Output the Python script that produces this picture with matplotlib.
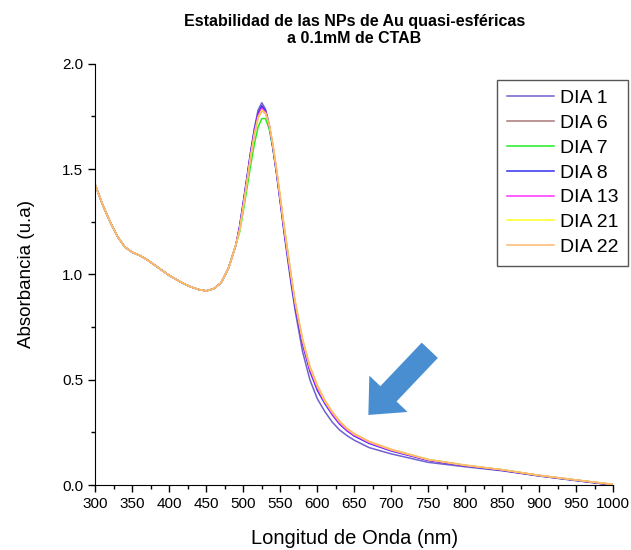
import matplotlib
import matplotlib.pyplot as plt
from matplotlib.ticker import MultipleLocator

matplotlib.rcParams['font.family'] = ['Liberation Sans', 'DejaVu Sans']

# wavelength grid (nm)
wl = [300, 310, 320, 330, 340, 350, 360, 370, 380, 390, 400, 410, 420, 430, 440,
      450, 460, 470, 480, 490,
      495, 500, 505, 510, 515, 520, 525, 530, 535, 540, 545, 550, 555, 560, 565, 570,
      580, 590, 600, 610, 620, 630, 640, 650, 670, 700, 750, 800, 850, 900, 950, 1000]

# part common to all days (300-490 nm)
common = [1.425, 1.33, 1.25, 1.18, 1.13, 1.105, 1.09, 1.07, 1.045, 1.02, 0.995,
          0.975, 0.955, 0.94, 0.928, 0.922, 0.932, 0.96, 1.03, 1.14]

dia1 = common + [1.23, 1.345, 1.465, 1.585, 1.695, 1.78, 1.815, 1.785, 1.71, 1.60,
                 1.475, 1.34, 1.20, 1.07, 0.945, 0.83,
                 0.635, 0.50, 0.41, 0.35, 0.30, 0.262, 0.235, 0.213, 0.178, 0.148,
                 0.108, 0.087, 0.068, 0.043, 0.021, 0.0]
dia6 = common + [1.22, 1.33, 1.45, 1.57, 1.68, 1.76, 1.80, 1.775, 1.71, 1.61,
                 1.49, 1.355, 1.22, 1.10, 0.975, 0.86,
                 0.68, 0.55, 0.46, 0.395, 0.34, 0.295, 0.262, 0.237, 0.202, 0.165,
                 0.118, 0.092, 0.071, 0.045, 0.023, 0.001]
dia7 = common + [1.20, 1.30, 1.41, 1.52, 1.62, 1.70, 1.74, 1.74, 1.69, 1.60,
                 1.49, 1.36, 1.23, 1.11, 0.985, 0.87,
                 0.69, 0.56, 0.47, 0.40, 0.345, 0.30, 0.266, 0.24, 0.205, 0.168,
                 0.121, 0.094, 0.073, 0.046, 0.024, 0.003]
dia8 = common + [1.225, 1.34, 1.46, 1.58, 1.685, 1.765, 1.80, 1.775, 1.705, 1.60,
                 1.48, 1.345, 1.21, 1.085, 0.96, 0.85,
                 0.67, 0.54, 0.45, 0.388, 0.335, 0.29, 0.258, 0.233, 0.198, 0.162,
                 0.117, 0.091, 0.07, 0.044, 0.022, 0.0]
dia13 = common + [1.22, 1.33, 1.45, 1.57, 1.675, 1.755, 1.79, 1.77, 1.71, 1.61,
                  1.49, 1.355, 1.22, 1.095, 0.975, 0.86,
                  0.68, 0.55, 0.46, 0.395, 0.34, 0.295, 0.262, 0.237, 0.202, 0.165,
                  0.119, 0.093, 0.072, 0.046, 0.024, 0.003]
dia21 = common + [1.21, 1.32, 1.44, 1.56, 1.665, 1.745, 1.78, 1.765, 1.71, 1.615,
                  1.495, 1.365, 1.23, 1.105, 0.985, 0.87,
                  0.69, 0.56, 0.47, 0.40, 0.347, 0.302, 0.268, 0.242, 0.206, 0.168,
                  0.121, 0.094, 0.073, 0.046, 0.024, 0.003]
dia22 = common + [1.21, 1.32, 1.44, 1.555, 1.66, 1.74, 1.775, 1.765, 1.71, 1.62,
                  1.50, 1.37, 1.235, 1.11, 0.99, 0.875,
                  0.695, 0.565, 0.475, 0.405, 0.35, 0.305, 0.27, 0.245, 0.208, 0.17,
                  0.122, 0.095, 0.073, 0.046, 0.024, 0.003]

labels = ['DIA 1', 'DIA 6', 'DIA 7', 'DIA 8', 'DIA 13', 'DIA 21', 'DIA 22']
series = [dia1, dia6, dia7, dia8, dia13, dia21, dia22]
colors = ['#7060D0', '#A87878', '#22EE22', '#3030F0', '#FF30FF', '#FFFF20', '#FFB870']

fig = plt.figure(figsize=(6.31, 5.5), dpi=100)
ax = fig.add_axes([0.151, 0.118, 0.821, 0.766])

for y, lab, c in zip(series, labels, colors):
    ax.plot(wl, y, color=c, lw=1.1, label=lab)

# big blue arrow pointing at the tail
ax.annotate('', xy=(669, 0.333), xytext=(752, 0.64),
            arrowprops=dict(arrowstyle='simple,head_length=1.05,head_width=1.9,tail_width=0.8',
                            mutation_scale=20, color='#4A8ED2', lw=0,
                            shrinkA=0, shrinkB=0))

# graphic settings
ax.set_xlim(300, 1000)
ax.set_ylim(0, 2.0)
ax.xaxis.set_major_locator(MultipleLocator(50))
ax.xaxis.set_minor_locator(MultipleLocator(25))
ax.yaxis.set_major_locator(MultipleLocator(0.5))
ax.yaxis.set_minor_locator(MultipleLocator(0.25))
ax.tick_params(which='major', direction='out', length=5, width=1, labelsize=11)
ax.tick_params(which='minor', direction='out', length=3, width=1)
for s in ['top', 'right']:
    ax.spines[s].set_visible(False)
ax.set_xlabel('Longitud de Onda (nm)', fontsize=14.5, labelpad=13)
ax.set_ylabel('Absorbancia (u.a)', fontsize=13.5, labelpad=20)
ax.set_title('Estabilidad de las NPs de Au quasi-esféricas\na 0.1mM de CTAB',
             fontsize=11.5, fontweight='bold', pad=15)

leg = ax.legend(loc='upper right', bbox_to_anchor=(0.995, 0.855),
                bbox_transform=fig.transFigure, fontsize=14, fancybox=False,
                framealpha=1, edgecolor='#555555', handlelength=2.4,
                borderpad=0.5, labelspacing=0.37, handletextpad=0.3,
                borderaxespad=0)
leg.get_frame().set_linewidth(1)

fig.savefig('out.png', dpi=100)
